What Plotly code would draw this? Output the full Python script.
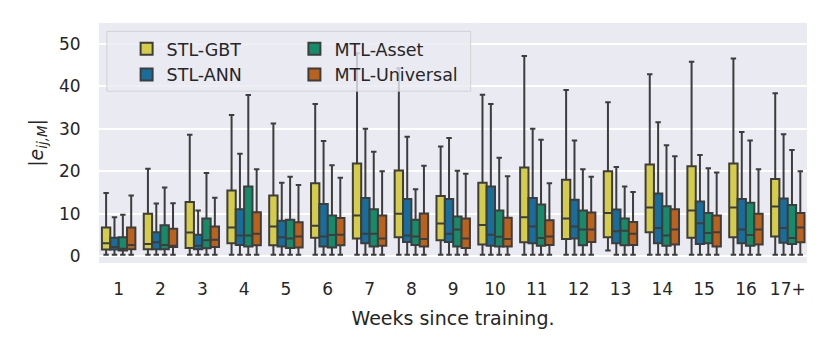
#!/usr/bin/env python3
# -*- coding: utf-8 -*-
"""
Box plot of the absolute error per model, grouped by the number of weeks
since the model was trained. Box statistics are read off the original figure.
"""
import plotly.graph_objects as go

# Categories on the x axis
weeks = ["1", "2", "3", "4", "5", "6", "7", "8", "9", "10",
         "11", "12", "13", "14", "15", "16", "17+"]

# STL-GBT
gbt_upper = [14.9, 20.6, 28.6, 33.2, 31.2, 35.8, 47.7, 44.2, 25.8, 38.0, 47.1, 39.1, 36.2, 42.8, 45.7, 46.5, 38.3]
gbt_q3 = [6.8, 10.0, 12.8, 15.5, 14.3, 17.2, 21.8, 20.2, 14.2, 17.3, 20.9, 18.0, 20.0, 21.6, 21.2, 21.8, 18.2]
gbt_median = [3.1, 2.9, 5.6, 6.8, 7.0, 7.2, 9.6, 10.0, 7.7, 7.4, 9.2, 8.9, 10.2, 11.5, 10.8, 11.5, 11.7]
gbt_q1 = [1.6, 1.7, 2.0, 3.1, 2.6, 4.4, 4.2, 4.5, 3.8, 2.8, 3.3, 4.1, 4.5, 5.7, 4.4, 4.5, 4.7]
gbt_lower = [0.4, 0.4, 0.4, 0.4, 0.4, 0.4, 0.4, 0.4, 0.4, 0.4, 0.4, 0.4, 1.4, 0.4, 0.4, 0.4, 0.4]

# STL-ANN
ann_upper = [9.2, 12.4, 10.8, 24.1, 17.3, 27.1, 30.0, 28.1, 27.8, 35.8, 30.0, 27.2, 21.0, 31.5, 23.8, 29.2, 28.7]
ann_q3 = [4.4, 5.7, 5.1, 11.1, 8.4, 12.3, 13.7, 13.5, 13.5, 16.4, 13.7, 13.3, 11.0, 14.8, 12.9, 13.5, 13.6]
ann_median = [2.2, 3.3, 2.5, 4.9, 4.5, 4.7, 5.3, 4.9, 5.3, 5.1, 7.0, 7.0, 5.9, 6.7, 7.8, 6.3, 6.7]
ann_q1 = [1.6, 1.7, 1.7, 2.7, 2.3, 2.3, 3.1, 3.4, 3.4, 2.5, 3.1, 4.2, 3.1, 3.1, 2.9, 3.1, 3.2]
ann_lower = [0.4, 0.4, 0.4, 0.4, 0.4, 0.4, 0.4, 0.4, 0.4, 0.4, 0.4, 0.4, 0.4, 0.4, 0.4, 0.4, 0.4]

# MTL-Asset
asset_upper = [9.8, 16.2, 19.6, 37.9, 18.7, 21.4, 24.6, 15.8, 20.1, 23.2, 27.4, 20.5, 16.4, 26.1, 20.7, 27.2, 25.0]
asset_q3 = [4.5, 7.3, 8.9, 16.4, 8.6, 9.6, 11.1, 8.6, 9.4, 10.8, 12.2, 10.8, 8.9, 11.8, 10.2, 12.6, 12.1]
asset_median = [1.8, 2.7, 3.8, 4.9, 4.2, 5.0, 5.3, 4.7, 6.3, 4.6, 4.3, 6.3, 6.0, 4.9, 5.5, 5.0, 4.3]
asset_q1 = [1.4, 1.7, 1.9, 2.3, 2.0, 2.1, 2.3, 2.7, 2.3, 2.3, 2.5, 2.6, 2.6, 2.5, 3.1, 2.5, 2.9]
asset_lower = [0.4, 0.4, 0.4, 0.4, 0.4, 0.4, 0.4, 0.4, 0.4, 0.4, 0.4, 0.4, 0.4, 0.4, 0.4, 0.4, 0.4]

# MTL-Universal
univ_upper = [14.3, 12.5, 13.8, 20.5, 16.8, 18.5, 20.0, 21.3, 19.4, 18.8, 17.2, 18.7, 15.1, 23.5, 19.7, 20.5, 20.0]
univ_q3 = [6.8, 6.5, 7.0, 10.4, 8.0, 9.0, 9.6, 10.1, 8.9, 9.1, 8.5, 10.3, 8.1, 11.1, 9.6, 10.0, 10.2]
univ_median = [2.7, 2.5, 3.9, 5.3, 4.7, 5.1, 4.2, 4.1, 4.2, 4.1, 4.7, 6.3, 5.3, 6.3, 5.7, 6.3, 6.8]
univ_q1 = [1.7, 2.2, 2.2, 2.6, 2.1, 2.6, 2.5, 2.3, 2.0, 2.3, 2.7, 3.4, 2.7, 2.8, 2.3, 2.8, 3.3]
univ_lower = [0.4, 0.4, 0.4, 0.4, 0.4, 0.4, 0.4, 0.4, 0.4, 0.4, 0.4, 0.4, 0.4, 0.4, 0.4, 0.4, 0.4]

LINE = "#3d3d3d"
FONT = "DejaVu Sans"
TEXT = "#262626"


def add_box(fig, name, color, lower, q1, median, q3, upper, legend):
    fig.add_trace(go.Box(
        x=weeks, q1=q1, median=median, q3=q3,
        lowerfence=lower, upperfence=upper,
        name=name, legendgroup=name, legend=legend,
        fillcolor=color, line=dict(color=LINE, width=2),
        whiskerwidth=0.65, boxpoints=False, hoverinfo="y",
    ))


def make_graph():
    fig = go.Figure()
    add_box(fig, "STL-GBT", "#d5cd4a", gbt_lower, gbt_q1, gbt_median, gbt_q3, gbt_upper, "legend")
    add_box(fig, "STL-ANN", "#176d9c", ann_lower, ann_q1, ann_median, ann_q3, ann_upper, "legend")
    add_box(fig, "MTL-Asset", "#168b6a", asset_lower, asset_q1, asset_median, asset_q3, asset_upper, "legend2")
    add_box(fig, "MTL-Universal", "#ba611b", univ_lower, univ_q1, univ_median, univ_q3, univ_upper, "legend2")

    legend_style = dict(
        bgcolor="rgba(0,0,0,0)", borderwidth=0,
        font=dict(family=FONT, size=17.5, color=TEXT),
        orientation="v", xanchor="left", yanchor="top", y=0.967,
        tracegroupgap=0, itemclick=False,
    )

    # the page body has an 8px margin, so the figure is 8px smaller than the window
    fig.update_layout(
        width=822, height=344,
        margin=dict(l=91, r=23, t=15, b=89),
        paper_bgcolor="white", plot_bgcolor="#eaeaf2",
        font=dict(family=FONT, size=17, color=TEXT),
        boxmode="group", boxgap=0.2, boxgroupgap=0,
        legend=dict(x=0.039, **legend_style),
        legend2=dict(x=0.276, **legend_style),
        # frame that sits behind both legend columns
        shapes=[dict(type="rect", xref="paper", yref="paper",
                     x0=0.011, x1=0.525, y0=0.716, y1=0.965,
                     layer="above",
                     fillcolor="rgba(234,234,242,0.8)",
                     line=dict(color="rgba(204,204,204,0.8)", width=1))],
    )
    fig.update_xaxes(
        type="category", range=[-0.47, 16.46], showgrid=False, zeroline=False,
        automargin=False,
        ticks="outside", ticklen=11, tickcolor="rgba(0,0,0,0)",
        title=dict(text="Weeks since training.", font=dict(size=19), standoff=13),
    )
    fig.update_yaxes(
        range=[-1.55, 54.83], tickvals=[0, 10, 20, 30, 40, 50],
        showgrid=True, gridcolor="white", gridwidth=1.6, zeroline=False,
        automargin=False,
        ticks="outside", ticklen=14, tickcolor="rgba(0,0,0,0)",
        title=dict(text="|<i>e</i><sub><i>ij,M</i></sub>|", font=dict(size=19), standoff=10),
    )
    return fig


if __name__ == "__main__":
    fig = make_graph()
    fig.write_html("out.html")
